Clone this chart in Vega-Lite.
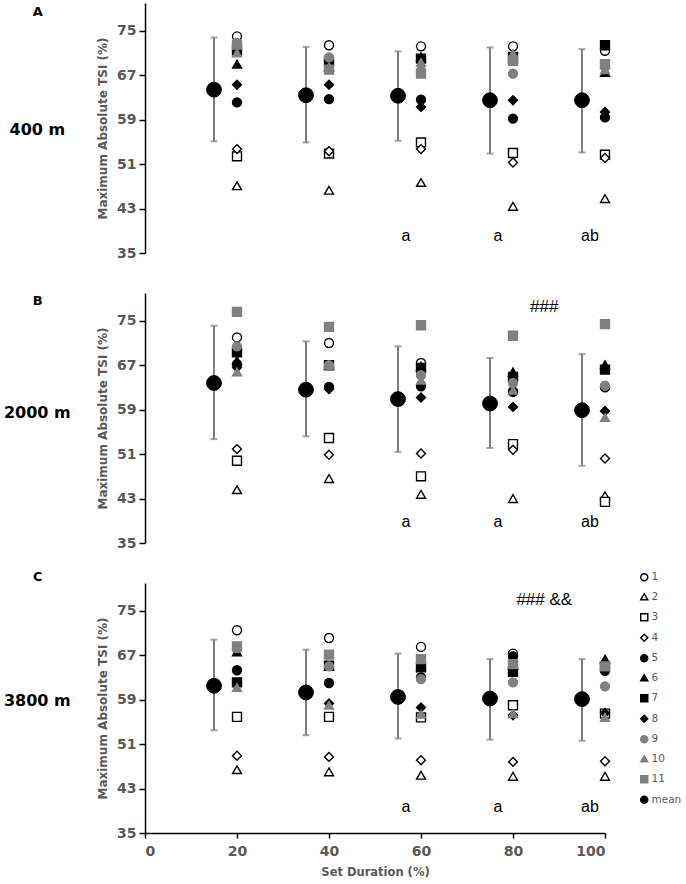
{
  "$schema": "https://vega.github.io/schema/vega-lite/v6.json",
  "background": "white",
  "padding": {"left": 3, "top": 3, "right": 0, "bottom": 4},
  "bounds": "flush",
  "spacing": 40,
  "datasets": {
    "subjects": [
      {"alt": "400 m", "subject": "1", "duration": 20, "tsi": 74.0}, {"alt": "400 m", "subject": "1", "duration": 40, "tsi": 72.4}, {"alt": "400 m", "subject": "1", "duration": 60, "tsi": 72.2}, {"alt": "400 m", "subject": "1", "duration": 80, "tsi": 72.2}, {"alt": "400 m", "subject": "1", "duration": 100, "tsi": 71.4},
      {"alt": "400 m", "subject": "2", "duration": 20, "tsi": 47.1}, {"alt": "400 m", "subject": "2", "duration": 40, "tsi": 46.3}, {"alt": "400 m", "subject": "2", "duration": 60, "tsi": 47.7}, {"alt": "400 m", "subject": "2", "duration": 80, "tsi": 43.4}, {"alt": "400 m", "subject": "2", "duration": 100, "tsi": 44.8},
      {"alt": "400 m", "subject": "3", "duration": 20, "tsi": 52.4}, {"alt": "400 m", "subject": "3", "duration": 40, "tsi": 52.9}, {"alt": "400 m", "subject": "3", "duration": 60, "tsi": 54.9}, {"alt": "400 m", "subject": "3", "duration": 80, "tsi": 53.0}, {"alt": "400 m", "subject": "3", "duration": 100, "tsi": 52.7},
      {"alt": "400 m", "subject": "4", "duration": 20, "tsi": 53.7}, {"alt": "400 m", "subject": "4", "duration": 40, "tsi": 53.3}, {"alt": "400 m", "subject": "4", "duration": 60, "tsi": 53.7}, {"alt": "400 m", "subject": "4", "duration": 80, "tsi": 51.3}, {"alt": "400 m", "subject": "4", "duration": 100, "tsi": 52.1},
      {"alt": "400 m", "subject": "5", "duration": 20, "tsi": 62.1}, {"alt": "400 m", "subject": "5", "duration": 40, "tsi": 62.7}, {"alt": "400 m", "subject": "5", "duration": 60, "tsi": 62.6}, {"alt": "400 m", "subject": "5", "duration": 80, "tsi": 59.2}, {"alt": "400 m", "subject": "5", "duration": 100, "tsi": 59.4},
      {"alt": "400 m", "subject": "6", "duration": 20, "tsi": 69.0}, {"alt": "400 m", "subject": "6", "duration": 40, "tsi": 68.5}, {"alt": "400 m", "subject": "6", "duration": 60, "tsi": 70.3}, {"alt": "400 m", "subject": "6", "duration": 80, "tsi": 70.0}, {"alt": "400 m", "subject": "6", "duration": 100, "tsi": 67.5},
      {"alt": "400 m", "subject": "7", "duration": 20, "tsi": 71.5}, {"alt": "400 m", "subject": "7", "duration": 40, "tsi": 69.5}, {"alt": "400 m", "subject": "7", "duration": 60, "tsi": 70.0}, {"alt": "400 m", "subject": "7", "duration": 80, "tsi": 70.3}, {"alt": "400 m", "subject": "7", "duration": 100, "tsi": 72.4},
      {"alt": "400 m", "subject": "8", "duration": 20, "tsi": 65.3}, {"alt": "400 m", "subject": "8", "duration": 40, "tsi": 65.3}, {"alt": "400 m", "subject": "8", "duration": 60, "tsi": 61.3}, {"alt": "400 m", "subject": "8", "duration": 80, "tsi": 62.5}, {"alt": "400 m", "subject": "8", "duration": 100, "tsi": 60.4},
      {"alt": "400 m", "subject": "9", "duration": 20, "tsi": 72.8}, {"alt": "400 m", "subject": "9", "duration": 40, "tsi": 70.2}, {"alt": "400 m", "subject": "9", "duration": 60, "tsi": 67.8}, {"alt": "400 m", "subject": "9", "duration": 80, "tsi": 67.3}, {"alt": "400 m", "subject": "9", "duration": 100, "tsi": 68.5},
      {"alt": "400 m", "subject": "10", "duration": 20, "tsi": 71.0}, {"alt": "400 m", "subject": "10", "duration": 40, "tsi": 68.5}, {"alt": "400 m", "subject": "10", "duration": 60, "tsi": 69.3}, {"alt": "400 m", "subject": "10", "duration": 80, "tsi": 70.9}, {"alt": "400 m", "subject": "10", "duration": 100, "tsi": 68.0},
      {"alt": "400 m", "subject": "11", "duration": 20, "tsi": 72.5}, {"alt": "400 m", "subject": "11", "duration": 40, "tsi": 68.0}, {"alt": "400 m", "subject": "11", "duration": 60, "tsi": 67.3}, {"alt": "400 m", "subject": "11", "duration": 80, "tsi": 69.6}, {"alt": "400 m", "subject": "11", "duration": 100, "tsi": 69.0},

      {"alt": "2000 m", "subject": "1", "duration": 20, "tsi": 72.0}, {"alt": "2000 m", "subject": "1", "duration": 40, "tsi": 71.0}, {"alt": "2000 m", "subject": "1", "duration": 60, "tsi": 67.4}, {"alt": "2000 m", "subject": "1", "duration": 80, "tsi": 62.2}, {"alt": "2000 m", "subject": "1", "duration": 100, "tsi": 63.1},
      {"alt": "2000 m", "subject": "2", "duration": 20, "tsi": 44.6}, {"alt": "2000 m", "subject": "2", "duration": 40, "tsi": 46.6}, {"alt": "2000 m", "subject": "2", "duration": 60, "tsi": 43.75}, {"alt": "2000 m", "subject": "2", "duration": 80, "tsi": 43.0}, {"alt": "2000 m", "subject": "2", "duration": 100, "tsi": 43.5},
      {"alt": "2000 m", "subject": "3", "duration": 20, "tsi": 49.8}, {"alt": "2000 m", "subject": "3", "duration": 40, "tsi": 53.9}, {"alt": "2000 m", "subject": "3", "duration": 60, "tsi": 47.0}, {"alt": "2000 m", "subject": "3", "duration": 80, "tsi": 52.8}, {"alt": "2000 m", "subject": "3", "duration": 100, "tsi": 42.4},
      {"alt": "2000 m", "subject": "4", "duration": 20, "tsi": 51.9}, {"alt": "2000 m", "subject": "4", "duration": 40, "tsi": 50.9}, {"alt": "2000 m", "subject": "4", "duration": 60, "tsi": 51.1}, {"alt": "2000 m", "subject": "4", "duration": 80, "tsi": 51.8}, {"alt": "2000 m", "subject": "4", "duration": 100, "tsi": 50.2},
      {"alt": "2000 m", "subject": "5", "duration": 20, "tsi": 67.2}, {"alt": "2000 m", "subject": "5", "duration": 40, "tsi": 63.1}, {"alt": "2000 m", "subject": "5", "duration": 60, "tsi": 63.2}, {"alt": "2000 m", "subject": "5", "duration": 80, "tsi": 62.3}, {"alt": "2000 m", "subject": "5", "duration": 100, "tsi": 63.0},
      {"alt": "2000 m", "subject": "6", "duration": 20, "tsi": 67.8}, {"alt": "2000 m", "subject": "6", "duration": 40, "tsi": 67.0}, {"alt": "2000 m", "subject": "6", "duration": 60, "tsi": 66.8}, {"alt": "2000 m", "subject": "6", "duration": 80, "tsi": 65.8}, {"alt": "2000 m", "subject": "6", "duration": 100, "tsi": 67.1},
      {"alt": "2000 m", "subject": "7", "duration": 20, "tsi": 69.3}, {"alt": "2000 m", "subject": "7", "duration": 40, "tsi": 67.0}, {"alt": "2000 m", "subject": "7", "duration": 60, "tsi": 66.5}, {"alt": "2000 m", "subject": "7", "duration": 80, "tsi": 64.9}, {"alt": "2000 m", "subject": "7", "duration": 100, "tsi": 66.2},
      {"alt": "2000 m", "subject": "8", "duration": 20, "tsi": 66.6}, {"alt": "2000 m", "subject": "8", "duration": 40, "tsi": 62.7}, {"alt": "2000 m", "subject": "8", "duration": 60, "tsi": 61.2}, {"alt": "2000 m", "subject": "8", "duration": 80, "tsi": 59.5}, {"alt": "2000 m", "subject": "8", "duration": 100, "tsi": 58.75},
      {"alt": "2000 m", "subject": "9", "duration": 20, "tsi": 70.4}, {"alt": "2000 m", "subject": "9", "duration": 40, "tsi": 67.0}, {"alt": "2000 m", "subject": "9", "duration": 60, "tsi": 65.2}, {"alt": "2000 m", "subject": "9", "duration": 80, "tsi": 63.8}, {"alt": "2000 m", "subject": "9", "duration": 100, "tsi": 63.3},
      {"alt": "2000 m", "subject": "10", "duration": 20, "tsi": 65.8}, {"alt": "2000 m", "subject": "10", "duration": 40, "tsi": 67.0}, {"alt": "2000 m", "subject": "10", "duration": 60, "tsi": 64.3}, {"alt": "2000 m", "subject": "10", "duration": 80, "tsi": 62.5}, {"alt": "2000 m", "subject": "10", "duration": 100, "tsi": 57.6},
      {"alt": "2000 m", "subject": "11", "duration": 20, "tsi": 76.6}, {"alt": "2000 m", "subject": "11", "duration": 40, "tsi": 73.9}, {"alt": "2000 m", "subject": "11", "duration": 60, "tsi": 74.2}, {"alt": "2000 m", "subject": "11", "duration": 80, "tsi": 72.3}, {"alt": "2000 m", "subject": "11", "duration": 100, "tsi": 74.4},

      {"alt": "3800 m", "subject": "1", "duration": 20, "tsi": 71.5}, {"alt": "3800 m", "subject": "1", "duration": 40, "tsi": 70.1}, {"alt": "3800 m", "subject": "1", "duration": 60, "tsi": 68.5}, {"alt": "3800 m", "subject": "1", "duration": 80, "tsi": 67.3}, {"alt": "3800 m", "subject": "1", "duration": 100, "tsi": 64.5},
      {"alt": "3800 m", "subject": "2", "duration": 20, "tsi": 46.4}, {"alt": "3800 m", "subject": "2", "duration": 40, "tsi": 46.0}, {"alt": "3800 m", "subject": "2", "duration": 60, "tsi": 45.4}, {"alt": "3800 m", "subject": "2", "duration": 80, "tsi": 45.2}, {"alt": "3800 m", "subject": "2", "duration": 100, "tsi": 45.2},
      {"alt": "3800 m", "subject": "3", "duration": 20, "tsi": 55.9}, {"alt": "3800 m", "subject": "3", "duration": 40, "tsi": 55.9}, {"alt": "3800 m", "subject": "3", "duration": 60, "tsi": 55.8}, {"alt": "3800 m", "subject": "3", "duration": 80, "tsi": 58.0}, {"alt": "3800 m", "subject": "3", "duration": 100, "tsi": 56.5},
      {"alt": "3800 m", "subject": "4", "duration": 20, "tsi": 48.9}, {"alt": "3800 m", "subject": "4", "duration": 40, "tsi": 48.7}, {"alt": "3800 m", "subject": "4", "duration": 60, "tsi": 48.1}, {"alt": "3800 m", "subject": "4", "duration": 80, "tsi": 47.8}, {"alt": "3800 m", "subject": "4", "duration": 100, "tsi": 47.9},
      {"alt": "3800 m", "subject": "5", "duration": 20, "tsi": 64.3}, {"alt": "3800 m", "subject": "5", "duration": 40, "tsi": 62.0}, {"alt": "3800 m", "subject": "5", "duration": 60, "tsi": 63.0}, {"alt": "3800 m", "subject": "5", "duration": 80, "tsi": 66.8}, {"alt": "3800 m", "subject": "5", "duration": 100, "tsi": 64.2},
      {"alt": "3800 m", "subject": "6", "duration": 20, "tsi": 67.6}, {"alt": "3800 m", "subject": "6", "duration": 40, "tsi": 65.0}, {"alt": "3800 m", "subject": "6", "duration": 60, "tsi": 65.0}, {"alt": "3800 m", "subject": "6", "duration": 80, "tsi": 65.2}, {"alt": "3800 m", "subject": "6", "duration": 100, "tsi": 66.3},
      {"alt": "3800 m", "subject": "7", "duration": 20, "tsi": 62.1}, {"alt": "3800 m", "subject": "7", "duration": 40, "tsi": 65.1}, {"alt": "3800 m", "subject": "7", "duration": 60, "tsi": 64.8}, {"alt": "3800 m", "subject": "7", "duration": 80, "tsi": 64.0}, {"alt": "3800 m", "subject": "7", "duration": 100, "tsi": 65.0},
      {"alt": "3800 m", "subject": "8", "duration": 20, "tsi": 62.0}, {"alt": "3800 m", "subject": "8", "duration": 40, "tsi": 58.3}, {"alt": "3800 m", "subject": "8", "duration": 60, "tsi": 57.6}, {"alt": "3800 m", "subject": "8", "duration": 80, "tsi": 56.2}, {"alt": "3800 m", "subject": "8", "duration": 100, "tsi": 56.6},
      {"alt": "3800 m", "subject": "9", "duration": 20, "tsi": 68.3}, {"alt": "3800 m", "subject": "9", "duration": 40, "tsi": 65.0}, {"alt": "3800 m", "subject": "9", "duration": 60, "tsi": 62.7}, {"alt": "3800 m", "subject": "9", "duration": 80, "tsi": 62.1}, {"alt": "3800 m", "subject": "9", "duration": 100, "tsi": 61.4},
      {"alt": "3800 m", "subject": "10", "duration": 20, "tsi": 61.2}, {"alt": "3800 m", "subject": "10", "duration": 40, "tsi": 58.0}, {"alt": "3800 m", "subject": "10", "duration": 60, "tsi": 56.4}, {"alt": "3800 m", "subject": "10", "duration": 80, "tsi": 56.5}, {"alt": "3800 m", "subject": "10", "duration": 100, "tsi": 55.8},
      {"alt": "3800 m", "subject": "11", "duration": 20, "tsi": 68.6}, {"alt": "3800 m", "subject": "11", "duration": 40, "tsi": 67.1}, {"alt": "3800 m", "subject": "11", "duration": 60, "tsi": 66.3}, {"alt": "3800 m", "subject": "11", "duration": 80, "tsi": 65.4}, {"alt": "3800 m", "subject": "11", "duration": 100, "tsi": 65.0}
    ],
    "means": [
      {"alt": "400 m", "subject": "mean", "x": 15, "mean": 64.4, "lo": 55.1, "hi": 73.8},
      {"alt": "400 m", "subject": "mean", "x": 35, "mean": 63.4, "lo": 54.9, "hi": 72.1},
      {"alt": "400 m", "subject": "mean", "x": 55, "mean": 63.3, "lo": 55.2, "hi": 71.3},
      {"alt": "400 m", "subject": "mean", "x": 75, "mean": 62.5, "lo": 52.9, "hi": 72.0},
      {"alt": "400 m", "subject": "mean", "x": 95, "mean": 62.5, "lo": 53.1, "hi": 71.7},
      {"alt": "2000 m", "subject": "mean", "x": 15, "mean": 63.8, "lo": 53.7, "hi": 74.1},
      {"alt": "2000 m", "subject": "mean", "x": 35, "mean": 62.6, "lo": 54.2, "hi": 71.3},
      {"alt": "2000 m", "subject": "mean", "x": 55, "mean": 60.9, "lo": 51.4, "hi": 70.4},
      {"alt": "2000 m", "subject": "mean", "x": 75, "mean": 60.1, "lo": 52.1, "hi": 68.3},
      {"alt": "2000 m", "subject": "mean", "x": 95, "mean": 58.9, "lo": 48.9, "hi": 69.0},
      {"alt": "3800 m", "subject": "mean", "x": 15, "mean": 61.5, "lo": 53.5, "hi": 69.8},
      {"alt": "3800 m", "subject": "mean", "x": 35, "mean": 60.3, "lo": 52.6, "hi": 68.0},
      {"alt": "3800 m", "subject": "mean", "x": 55, "mean": 59.5, "lo": 52.0, "hi": 67.3},
      {"alt": "3800 m", "subject": "mean", "x": 75, "mean": 59.2, "lo": 51.8, "hi": 66.3},
      {"alt": "3800 m", "subject": "mean", "x": 95, "mean": 59.1, "lo": 51.6, "hi": 66.3}
    ],
    "notes": [
      {"alt": "400 m", "duration": 60, "label": "a"},
      {"alt": "400 m", "duration": 80, "label": "a"},
      {"alt": "400 m", "duration": 100, "label": "ab"},
      {"alt": "2000 m", "duration": 60, "label": "a"},
      {"alt": "2000 m", "duration": 80, "label": "a"},
      {"alt": "2000 m", "duration": 100, "label": "ab"},
      {"alt": "3800 m", "duration": 60, "label": "a"},
      {"alt": "3800 m", "duration": 80, "label": "a"},
      {"alt": "3800 m", "duration": 100, "label": "ab"}
    ]
  },
  "vconcat": [
    {
      "width": 460,
      "height": 250,
      "layer": [
        {
          "data": {"name": "means"},
          "transform": [{"filter": "datum.alt == '400 m'"}],
          "mark": {"type": "errorbar", "color": "#808080", "thickness": 2, "ticks": {"size": 7}},
          "encoding": {
            "x": {"field": "x", "type": "quantitative", "scale": {"domain": [0, 100]}, "axis": null},
            "y": {"field": "lo", "type": "quantitative", "title": "Maximum Absolute TSI (%)", "scale": {"domain": [35, 80], "nice": false, "zero": false},
                  "axis": {"values": [35, 43, 51, 59, 67, 75], "tickSize": 6, "labelPadding": 3, "titlePadding": 7}},
            "y2": {"field": "hi"}
          }
        },
        {
          "data": {"name": "means"},
          "transform": [{"filter": "datum.alt == '400 m'"}],
          "mark": {"type": "point", "size": 220, "opacity": 1, "strokeWidth": 1},
          "encoding": {
            "x": {"field": "x", "type": "quantitative"},
            "y": {"field": "mean", "type": "quantitative", "title": "Maximum Absolute TSI (%)"},
            "shape": {"field": "subject", "type": "nominal", "legend": null,
                      "scale": {"domain": ["1","2","3","4","5","6","7","8","9","10","11","mean"], "range": ["circle","triangle-up","square","diamond","circle","triangle-up","square","diamond","circle","triangle-up","square","circle"]}},
            "fill": {"field": "subject", "type": "nominal", "legend": null,
                     "scale": {"domain": ["1","2","3","4","5","6","7","8","9","10","11","mean"], "range": ["white","white","white","white","black","black","black","black","#808080","#808080","#808080","black"]}},
            "stroke": {"field": "subject", "type": "nominal", "legend": null,
                       "scale": {"domain": ["1","2","3","4","5","6","7","8","9","10","11","mean"], "range": ["black","black","black","black","black","black","black","black","#808080","#808080","#808080","black"]}}
          }
        },
        {
          "data": {"name": "subjects"},
          "transform": [{"filter": "datum.alt == '400 m'"}],
          "mark": {"type": "point", "size": 80, "opacity": 1, "strokeWidth": 1.4},
          "encoding": {
            "x": {"field": "duration", "type": "quantitative"},
            "y": {"field": "tsi", "type": "quantitative", "title": "Maximum Absolute TSI (%)"},
            "shape": {"field": "subject", "type": "nominal", "legend": null},
            "fill": {"field": "subject", "type": "nominal", "legend": null},
            "stroke": {"field": "subject", "type": "nominal", "legend": null}
          }
        },
        {
          "data": {"name": "notes"},
          "transform": [{"filter": "datum.alt == '400 m'"}],
          "mark": {"type": "text", "dx": -15, "font": "Liberation Sans", "fontSize": 16, "color": "black"},
          "encoding": {
            "x": {"field": "duration", "type": "quantitative"},
            "y": {"datum": 38.1},
            "text": {"field": "label"}
          }
        },
        {
          "data": {"values": [{}]},
          "mark": {"type": "text", "fontSize": 16, "fontWeight": "bold", "color": "black"},
          "encoding": {"x": {"datum": -23.4}, "y": {"datum": 57.1}, "text": {"value": "400 m"}}
        },
        {
          "data": {"values": [{}]},
          "mark": {"type": "text", "fontSize": 13, "fontWeight": "bold", "color": "black"},
          "encoding": {"x": {"datum": -23.3}, "y": {"datum": 78.4}, "text": {"value": "A"}}
        }
      ]
    },
    {
      "width": 460,
      "height": 250,
      "layer": [
        {
          "data": {"name": "means"},
          "transform": [{"filter": "datum.alt == '2000 m'"}],
          "mark": {"type": "errorbar", "color": "#808080", "thickness": 2, "ticks": {"size": 7}},
          "encoding": {
            "x": {"field": "x", "type": "quantitative", "scale": {"domain": [0, 100]}, "axis": null},
            "y": {"field": "lo", "type": "quantitative", "title": "Maximum Absolute TSI (%)", "scale": {"domain": [35, 80], "nice": false, "zero": false},
                  "axis": {"values": [35, 43, 51, 59, 67, 75], "tickSize": 6, "labelPadding": 3, "titlePadding": 7}},
            "y2": {"field": "hi"}
          }
        },
        {
          "data": {"name": "means"},
          "transform": [{"filter": "datum.alt == '2000 m'"}],
          "mark": {"type": "point", "size": 220, "opacity": 1, "strokeWidth": 1},
          "encoding": {
            "x": {"field": "x", "type": "quantitative"},
            "y": {"field": "mean", "type": "quantitative", "title": "Maximum Absolute TSI (%)"},
            "shape": {"field": "subject", "type": "nominal", "legend": null},
            "fill": {"field": "subject", "type": "nominal", "legend": null},
            "stroke": {"field": "subject", "type": "nominal", "legend": null}
          }
        },
        {
          "data": {"name": "subjects"},
          "transform": [{"filter": "datum.alt == '2000 m'"}],
          "mark": {"type": "point", "size": 80, "opacity": 1, "strokeWidth": 1.4},
          "encoding": {
            "x": {"field": "duration", "type": "quantitative"},
            "y": {"field": "tsi", "type": "quantitative", "title": "Maximum Absolute TSI (%)"},
            "shape": {"field": "subject", "type": "nominal", "legend": null},
            "fill": {"field": "subject", "type": "nominal", "legend": null},
            "stroke": {"field": "subject", "type": "nominal", "legend": null}
          }
        },
        {
          "data": {"name": "notes"},
          "transform": [{"filter": "datum.alt == '2000 m'"}],
          "mark": {"type": "text", "dx": -15, "font": "Liberation Sans", "fontSize": 16, "color": "black"},
          "encoding": {
            "x": {"field": "duration", "type": "quantitative"},
            "y": {"datum": 38.8},
            "text": {"field": "label"}
          }
        },
        {
          "data": {"values": [{}]},
          "mark": {"type": "text", "font": "Liberation Sans", "fontSize": 17, "color": "black"},
          "encoding": {"x": {"datum": 86.8}, "y": {"datum": 77.4}, "text": {"value": "###"}}
        },
        {
          "data": {"values": [{}]},
          "mark": {"type": "text", "fontSize": 16, "fontWeight": "bold", "color": "black"},
          "encoding": {"x": {"datum": -23.4}, "y": {"datum": 58.4}, "text": {"value": "2000 m"}}
        },
        {
          "data": {"values": [{}]},
          "mark": {"type": "text", "fontSize": 13, "fontWeight": "bold", "color": "black"},
          "encoding": {"x": {"datum": -23.3}, "y": {"datum": 78.6}, "text": {"value": "B"}}
        }
      ]
    },
    {
      "width": 460,
      "height": 250,
      "layer": [
        {
          "data": {"name": "means"},
          "transform": [{"filter": "datum.alt == '3800 m'"}],
          "mark": {"type": "errorbar", "color": "#808080", "thickness": 2, "ticks": {"size": 7}},
          "encoding": {
            "x": {"field": "x", "type": "quantitative", "title": "Set Duration (%)", "scale": {"domain": [0, 100]},
                  "axis": {"values": [0, 20, 40, 60, 80, 100], "tickSize": 5, "labelPadding": 6, "titlePadding": 8, "titleFontSize": 11.5, "titleFontWeight": "bold"}},
            "y": {"field": "lo", "type": "quantitative", "title": "Maximum Absolute TSI (%)", "scale": {"domain": [35, 80], "nice": false, "zero": false},
                  "axis": {"values": [35, 43, 51, 59, 67, 75], "tickSize": 6, "labelPadding": 3, "titlePadding": 7}},
            "y2": {"field": "hi"}
          }
        },
        {
          "data": {"name": "means"},
          "transform": [{"filter": "datum.alt == '3800 m'"}],
          "mark": {"type": "point", "size": 220, "opacity": 1, "strokeWidth": 1},
          "encoding": {
            "x": {"field": "x", "type": "quantitative", "title": "Set Duration (%)"},
            "y": {"field": "mean", "type": "quantitative", "title": "Maximum Absolute TSI (%)"},
            "shape": {"field": "subject", "type": "nominal",
                      "legend": {"orient": "none", "legendX": 494, "legendY": -11, "title": null, "labelFontSize": 10.5, "labelColor": "#595959", "symbolSize": 50, "symbolStrokeWidth": 1.4, "rowPadding": 6.5, "labelOffset": 2}},
            "fill": {"field": "subject", "type": "nominal"},
            "stroke": {"field": "subject", "type": "nominal"}
          }
        },
        {
          "data": {"name": "subjects"},
          "transform": [{"filter": "datum.alt == '3800 m'"}],
          "mark": {"type": "point", "size": 80, "opacity": 1, "strokeWidth": 1.4},
          "encoding": {
            "x": {"field": "duration", "type": "quantitative", "title": "Set Duration (%)"},
            "y": {"field": "tsi", "type": "quantitative", "title": "Maximum Absolute TSI (%)"},
            "shape": {"field": "subject", "type": "nominal"},
            "fill": {"field": "subject", "type": "nominal"},
            "stroke": {"field": "subject", "type": "nominal"}
          }
        },
        {
          "data": {"name": "notes"},
          "transform": [{"filter": "datum.alt == '3800 m'"}],
          "mark": {"type": "text", "dx": -15, "font": "Liberation Sans", "fontSize": 16, "color": "black"},
          "encoding": {
            "x": {"field": "duration", "type": "quantitative"},
            "y": {"datum": 39.7},
            "text": {"field": "label"}
          }
        },
        {
          "data": {"values": [{}]},
          "mark": {"type": "text", "font": "Liberation Sans", "fontSize": 17, "color": "black"},
          "encoding": {"x": {"datum": 86.8}, "y": {"datum": 76.9}, "text": {"value": "### &&"}}
        },
        {
          "data": {"values": [{}]},
          "mark": {"type": "text", "fontSize": 16, "fontWeight": "bold", "color": "black"},
          "encoding": {"x": {"datum": -23.4}, "y": {"datum": 58.7}, "text": {"value": "3800 m"}}
        },
        {
          "data": {"values": [{}]},
          "mark": {"type": "text", "fontSize": 13, "fontWeight": "bold", "color": "black"},
          "encoding": {"x": {"datum": -23.3}, "y": {"datum": 81.0}, "text": {"value": "C"}}
        }
      ]
    }
  ],
  "resolve": {"legend": {"shape": "independent", "fill": "independent", "stroke": "independent"}},
  "config": {
    "view": {"stroke": null},
    "font": "DejaVu Sans",
    "axis": {
      "grid": false,
      "domainColor": "black",
      "domainWidth": 1.5,
      "tickColor": "black",
      "tickWidth": 1.5,
      "labelColor": "#595959",
      "labelFontWeight": "bold",
      "labelFontSize": 14,
      "titleColor": "#595959",
      "titleFontWeight": "bold",
      "titleFontSize": 12
    },
    "legend": {"labelFont": "DejaVu Sans"}
  }
}
